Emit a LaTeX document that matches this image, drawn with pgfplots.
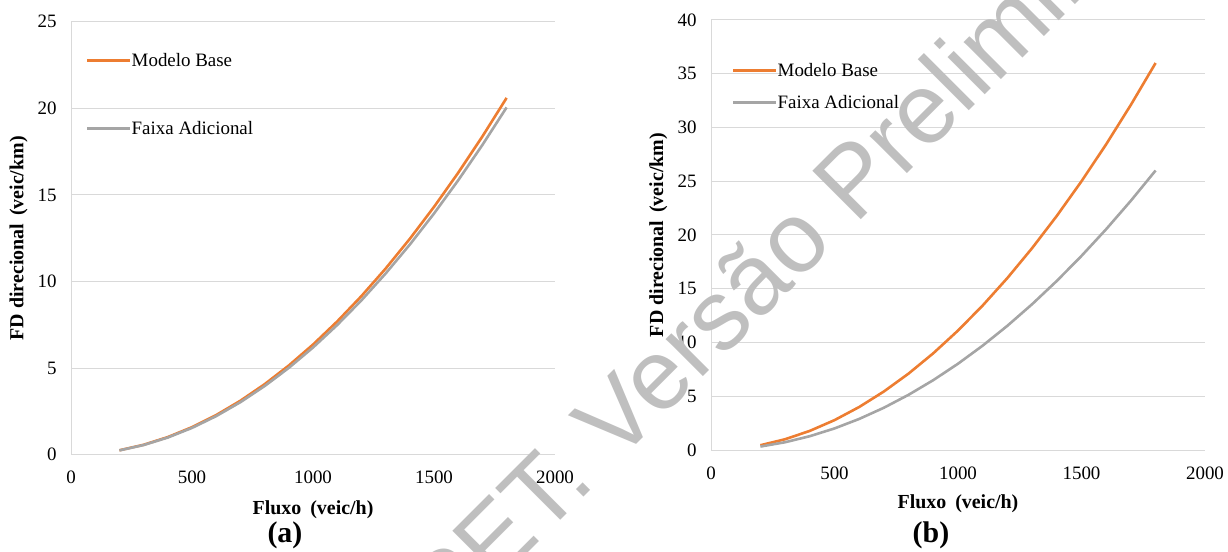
\documentclass[border=0pt]{standalone}
\usepackage{fontspec}
\setmainfont{Liberation Serif}
\newfontfamily\wmfont{Liberation Sans}
\usepackage{pgfplots}
\pgfplotsset{compat=1.18}
\definecolor{mborange}{HTML}{ED7D31}
\definecolor{fagray}{HTML}{A5A5A5}
\definecolor{gridgray}{HTML}{D9D9D9}
\definecolor{wmgray}{HTML}{BFBFBF}
\pgfplotsset{
 excelstyle/.style={
  scale only axis,
  anchor=south west,
  xmin=0, xmax=2000,
  ymin=0,
  xtick={0,500,...,2000},
  axis x line*=bottom, axis y line*=left,
  axis line style={gridgray, line width=1bp, -},
  major tick length=0pt,
  ymajorgrids, grid style={gridgray, line width=1bp},
  tick label style={font=\fontsize{19}{22}\selectfont},
  /pgf/number format/assume math mode=true,
  /pgf/number format/1000 sep={},
  xticklabel style={yshift=-13bp},
  yticklabel style={xshift=-11bp},
  label style={font=\bfseries\fontsize{20}{24}\selectfont},
  title style={font=\bfseries\fontsize{30}{34}\selectfont, anchor=base},
  legend image code/.code={\draw[##1, line width=3bp] (0bp,0bp) -- (43bp,0bp);},
  legend cell align=left,
  legend style={draw=none, fill=none, inner sep=0pt, outer sep=0pt, anchor=north west, column sep=0bp, font=\fontsize{19}{22}\selectfont, nodes={inner sep=0pt}},
 },
 mb/.style={mborange, line width=2.6bp, no markers},
 fa/.style={fagray, line width=2.6bp, no markers},
}
\pgfplotstableread{
x mb fa
200 0.254 0.248
300 0.572 0.557
400 1.017 0.990
500 1.590 1.547
600 2.289 2.228
700 3.116 3.032
800 4.069 3.960
900 5.150 5.013
1000 6.358 6.188
1100 7.694 7.488
1200 9.156 8.911
1300 10.745 10.459
1400 12.462 12.130
1500 14.306 13.924
1600 16.277 15.842
1700 18.375 17.884
1800 20.600 20.050
}\dataA
\pgfplotstableread{
x mb fa
200 0.444 0.321
300 1.000 0.722
400 1.778 1.284
500 2.778 2.006
600 4.000 2.889
700 5.444 3.932
800 7.111 5.136
900 9.000 6.500
1000 11.111 8.025
1100 13.444 9.710
1200 16.000 11.556
1300 18.778 13.562
1400 21.778 15.728
1500 25.000 18.056
1600 28.444 20.543
1700 32.111 23.191
1800 36.000 26.000
}\dataB
\begin{document}
\begin{tikzpicture}
\useasboundingbox (0,0) rectangle (1228bp,552bp);
\begin{axis}[excelstyle, at={(71bp,97.3bp)}, width=484bp, height=433bp,
  ymax=25, ytick={0,5,...,25},
  xlabel={Fluxo\hspace{0.45em}(veic/h)}, ylabel={FD direcional\hspace{0.4em}(veic/km)},
  xlabel style={at={(axis description cs:0.5,-0.1275)}, anchor=center},
  ylabel style={at={(axis description cs:-0.1085,0.5)}, anchor=center},
  title={(a)}, title style={at={(axis description cs:0.442,-0.2155)}},
  legend style={at={(axis description cs:0.0304,0.9266)}, row sep=53.4bp}]
\addplot[mb] table[x=x, y=mb] {\dataA};
\addlegendentry{Modelo Base}
\addplot[fa] table[x=x, y=fa] {\dataA};
\addlegendentry{Faixa Adicional}
\end{axis}
\begin{axis}[excelstyle, at={(711bp,102bp)}, width=494bp, height=430bp,
  ymax=40, ytick={0,5,...,40},
  xlabel={Fluxo\hspace{0.45em}(veic/h)}, ylabel={FD direcional\hspace{0.4em}(veic/km)},
  xlabel style={at={(axis description cs:0.5,-0.124)}, anchor=center},
  ylabel style={at={(axis description cs:-0.1065,0.5)}, anchor=center},
  title={(b)}, title style={at={(axis description cs:0.4453,-0.228)}},
  legend style={at={(axis description cs:0.0419,0.899)}, row sep=17.4bp}]
\addplot[mb] table[x=x, y=mb] {\dataB};
\addlegendentry{Modelo Base}
\addplot[fa] table[x=x, y=fa] {\dataB};
\addlegendentry{Faixa Adicional}
\end{axis}
\node[rotate=45, text=wmgray, font=\wmfont\fontsize{100}{100}\selectfont] at (785bp,307bp) {PET. Versão Preliminar};
\end{tikzpicture}
\end{document}
